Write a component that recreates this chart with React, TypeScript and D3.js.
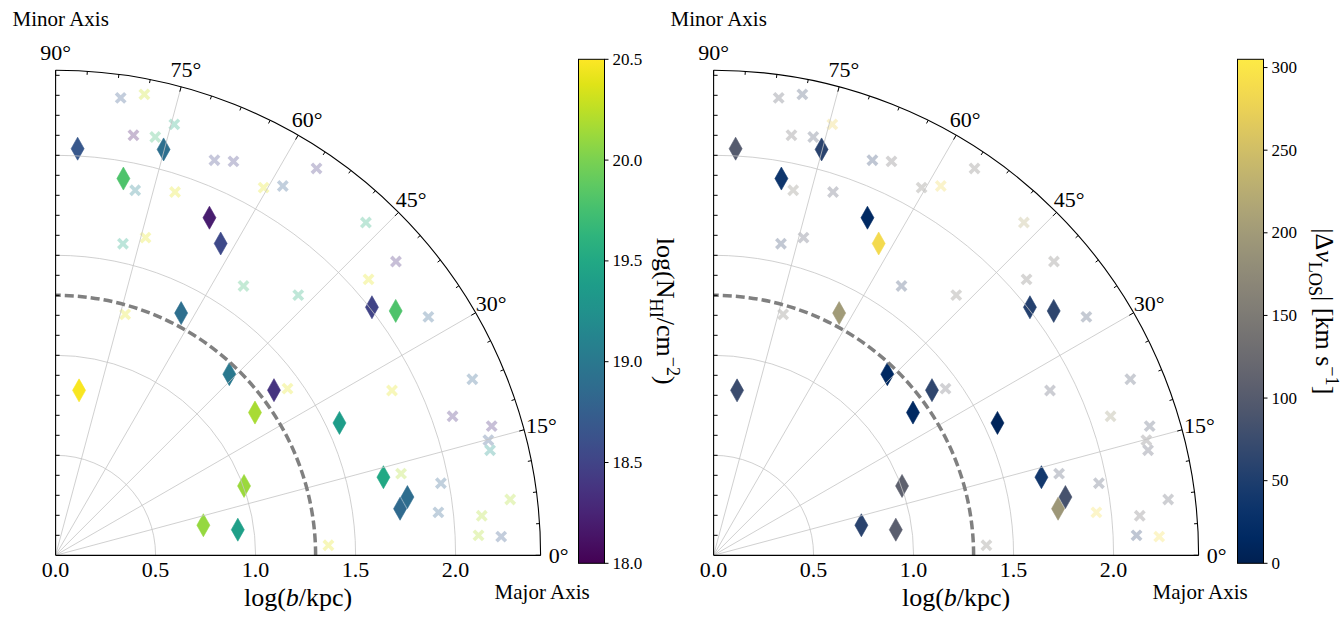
import React, { useEffect, useRef } from "react";
import * as d3 from "d3";

// detections (diamonds): log(b/kpc), azimuthal angle [deg], log N_HI, |dv_LOS|
const detR = [2.036, 2.1, 1.914, 1.855, 1.764, 2.01, 2.094, 1.364, 0.833, 1.255, 1.369, 1.226, 1.566, 1.004, 0.754, 0.92, 1.685, 1.783, 1.738];
const detTheta = [86.9, 75.1, 79.8, 65.5, 62.1, 38.1, 35.7, 62.6, 81.9, 46.2, 37.1, 35.6, 25.0, 20.2, 11.5, 8.0, 13.4, 9.4, 7.7];
const detNHI = [18.68, 18.9, 19.8, 18.2, 18.55, 18.5, 19.8, 18.9, 20.48, 19.0, 18.38, 20.17, 19.38, 20.12, 20.1, 19.4, 19.5, 18.88, 18.85];
const detDv = [100, 60, 35, 15, 285, 55, 65, 200, 75, 15, 65, 15, 8, 110, 60, 105, 40, 85, 195];

// non-detections (crosses)
const ulR = [2.31, 2.347, 2.136, 2.15, 2.235, 2.129, 2.161, 2.333, 1.868, 1.912, 2.112, 2.168, 1.594, 1.651, 1.642, 1.779, 2.275, 2.248, 2.086, 2.2125, 1.254, 1.428, 1.365, 2.262, 1.873, 2.103, 2.274, 2.239, 2.235, 1.775, 1.96, 1.926, 2.29, 2.14, 2.117, 2.23];
const ulTheta = [81.9, 79.1, 79.5, 76.6, 74.6, 68.1, 65.7, 56.0, 77.7, 71.8, 60.5, 58.4, 77.8, 74.2, 55.1, 47.0, 47.0, 40.8, 41.4, 32.6, 73.9, 35.7, 2.1, 22.9, 26.1, 19.3, 16.5, 14.9, 13.6, 13.3, 10.6, 6.4, 7.0, 5.3, 2.7, 2.4];
const ulNHI = [18.7, 20.3, 18.15, 19.7, 19.55, 18.5, 18.45, 18.4, 19.1, 20.4, 20.4, 18.75, 19.5, 20.4, 19.7, 19.6, 19.6, 18.3, 20.4, 18.8, 20.4, 20.4, 20.4, 18.8, 20.4, 18.3, 18.3, 18.7, 19.3, 20.2, 18.8, 18.8, 20.2, 20.2, 20.2, 18.7];
const ulDv = [110, 80, 130, 90, 275, 60, 130, 140, 160, 100, 150, 280, 70, 100, 70, 150, 220, 140, 140, 80, 150, 120, 150, 90, 100, 190, 90, 130, 100, 90, 90, 290, 110, 130, 60, 290];

const radialTicks = [0, 0.5, 1.0, 1.5, 2.0];
const radialTickLabels = ["0.0", "0.5", "1.0", "1.5", "2.0"];
const angleTicks = [0, 15, 30, 45, 60, 75, 90];
const circleGrid = [0.5, 1.0, 1.5, 2.0];
const nhiTicks = [18.0, 18.5, 19.0, 19.5, 20.0, 20.5];
const dvTicks = [0, 50, 100, 150, 200, 250, 300];
const nhiDomain = [18.0, 20.5];
const dvDomain = [0, 305];
const virialR = 1.3;

const FONT = '"Liberation Serif", "Times New Roman", serif';
const OY = 555.3;
const R_PX = 485;
const R_MAX = 2.425;
const CB_TOP = 59.3;
const CB_BOT = 563.3;
const CB_W = 26;

function xMarkerPath(h: number, L: number) {
  const pts = [[h, L], [h, h], [L, h], [L, -h], [h, -h], [h, -L], [-h, -L], [-h, -h], [-L, -h], [-L, h], [-h, h], [-h, L]];
  const c = Math.SQRT1_2;
  return "M" + pts.map(([x, y]) => `${(x * c - y * c).toFixed(2)},${(x * c + y * c).toFixed(2)}`).join("L") + "Z";
}

function richText(text: any, parts: [string, string][], size: number) {
  let shift = 0;
  parts.forEach(([s, k]) => {
    const t = text.append("tspan").text(s);
    let target = 0;
    if (k === "sub") { target = size * 0.25; t.attr("font-size", size * 0.7); }
    if (k === "sup") { target = -size * 0.4; t.attr("font-size", size * 0.7); }
    if (k === "i") t.attr("font-style", "italic");
    if (target !== shift) { t.attr("dy", target - shift); shift = target; }
  });
}

function drawPanel(svg: any, o: any) {
  const { ox, detVal, ulVal, interp, domain, ticks, fmt, cbX, gradId, label } = o;
  const r = d3.scaleLinear().domain([0, R_MAX]).range([0, R_PX]);
  const color = d3.scaleSequential(interp).domain(domain);
  const pt = (rv: number, deg: number) => {
    const a = (deg * Math.PI) / 180;
    return [ox + r(rv) * Math.cos(a), OY - r(rv) * Math.sin(a)];
  };
  const g = svg.append("g");
  const idxUl = d3.range(ulR.length);
  const idxDet = d3.range(detR.length);

  // non-detections
  g.append("g").selectAll("path").data(idxUl).join("path")
    .attr("d", xMarkerPath(1.8, 6.6))
    .attr("transform", (i: number) => `translate(${pt(ulR[i], ulTheta[i])})`)
    .attr("fill", (i: number) => color(ulVal[i]))
    .attr("fill-opacity", 0.3);

  // detections
  g.append("g").selectAll("path").data(idxDet).join("path")
    .attr("d", "M0,-11.5L6.5,0L0,11.5L-6.5,0Z")
    .attr("transform", (i: number) => `translate(${pt(detR[i], detTheta[i])})`)
    .attr("fill", (i: number) => color(detVal[i]))
    .attr("stroke", (i: number) => color(detVal[i]))
    .attr("stroke-width", 0.6);

  // grid
  const arcPath = (rv: number) => {
    const p = d3.path();
    p.moveTo(ox + r(rv), OY);
    p.arc(ox, OY, r(rv), 0, -Math.PI / 2, true);
    return p.toString();
  };
  g.append("g").selectAll("path").data(circleGrid).join("path")
    .attr("d", arcPath).attr("fill", "none").attr("stroke", "#c4c4c4").attr("stroke-width", 0.8);
  g.append("g").selectAll("line").data(angleTicks.slice(1, -1)).join("line")
    .attr("x1", ox).attr("y1", OY)
    .attr("x2", (d: number) => pt(R_MAX, d)[0]).attr("y2", (d: number) => pt(R_MAX, d)[1])
    .attr("stroke", "#c4c4c4").attr("stroke-width", 0.8);

  // virial radius
  g.append("path").attr("d", arcPath(virialR)).attr("fill", "none")
    .attr("stroke", "#808080").attr("stroke-width", 3.5).attr("stroke-dasharray", "9,4");

  // spines
  g.append("path").attr("d", arcPath(R_MAX)).attr("fill", "none").attr("stroke", "#000").attr("stroke-width", 1.1);
  g.append("line").attr("x1", ox).attr("y1", OY).attr("x2", ox).attr("y2", OY - R_PX).attr("stroke", "#000").attr("stroke-width", 1.1);
  g.append("line").attr("x1", ox).attr("y1", OY).attr("x2", ox + R_PX).attr("y2", OY).attr("stroke", "#000").attr("stroke-width", 1.3);

  // angular ticks
  const minorAng = d3.range(0, 90.01, 3.75);
  g.append("g").selectAll("line").data(minorAng).join("line")
    .each(function (this: any, d: number) {
      const len = d % 15 === 0 ? 5 : 3.5;
      const a = (d * Math.PI) / 180;
      d3.select(this)
        .attr("x1", ox + R_PX * Math.cos(a)).attr("y1", OY - R_PX * Math.sin(a))
        .attr("x2", ox + (R_PX - len) * Math.cos(a)).attr("y2", OY - (R_PX - len) * Math.sin(a));
    })
    .attr("stroke", "#000").attr("stroke-width", 1);

  // ticks on the 90 deg edge
  g.append("g").selectAll("line").data(d3.range(1, 25).map((k) => k / 10)).join("line")
    .attr("x1", ox).attr("x2", ox + 4)
    .attr("y1", (d: number) => OY - r(d)).attr("y2", (d: number) => OY - r(d))
    .attr("stroke", "#000").attr("stroke-width", 1);

  // angle labels
  g.append("g").selectAll("text").data(angleTicks).join("text")
    .attr("x", (d: number) => ox + (R_PX + 18) * Math.cos((d * Math.PI) / 180))
    .attr("y", (d: number) => OY - (R_PX + 18) * Math.sin((d * Math.PI) / 180))
    .attr("text-anchor", "middle").attr("dominant-baseline", "central")
    .attr("font-family", FONT).attr("font-size", 22)
    .text((d: number) => `${d}°`);

  // radial tick labels
  g.append("g").selectAll("text").data(radialTicks).join("text")
    .attr("x", (d: number) => ox + r(d)).attr("y", 577)
    .attr("text-anchor", "middle").attr("font-family", FONT).attr("font-size", 22)
    .text((d: number, i: number) => radialTickLabels[i]);

  const xl = g.append("text").attr("x", ox + R_PX / 2).attr("y", 606)
    .attr("text-anchor", "middle").attr("font-family", FONT).attr("font-size", 26);
  richText(xl, [["log(", "n"], ["b", "i"], ["/kpc)", "n"]], 26);

  g.append("text").attr("x", ox - 43).attr("y", 26).attr("font-family", FONT).attr("font-size", 21).text("Minor Axis");
  g.append("text").attr("x", ox + 439).attr("y", 599).attr("font-family", FONT).attr("font-size", 21).text("Major Axis");

  // colorbar
  const grad = svg.append("defs").append("linearGradient").attr("id", gradId)
    .attr("x1", 0).attr("y1", 1).attr("x2", 0).attr("y2", 0);
  d3.range(0, 1.0001, 0.05).forEach((t: number) => {
    grad.append("stop").attr("offset", t).attr("stop-color", interp(t));
  });
  const cy = d3.scaleLinear().domain(domain).range([CB_BOT, CB_TOP]);
  g.append("rect").attr("x", cbX).attr("y", CB_TOP).attr("width", CB_W).attr("height", CB_BOT - CB_TOP)
    .attr("fill", `url(#${gradId})`).attr("stroke", "#000").attr("stroke-width", 1);
  const tg = g.append("g").selectAll("g").data(ticks).join("g")
    .attr("transform", (d: number) => `translate(${cbX + CB_W},${cy(d)})`);
  tg.append("line").attr("x2", 4).attr("stroke", "#000");
  tg.append("text").attr("x", 8).attr("dominant-baseline", "central")
    .attr("font-family", FONT).attr("font-size", 17).text((d: number) => fmt(d));

  const cl = g.append("text").attr("transform", `translate(${cbX + 78},${(CB_TOP + CB_BOT) / 2}) rotate(90)`)
    .attr("text-anchor", "middle").attr("font-family", FONT).attr("font-size", 26);
  richText(cl, label, 26);
}

export default function App() {
  const ref = useRef<SVGSVGElement>(null);
  useEffect(() => {
    const svg = d3.select(ref.current);
    svg.selectAll("*").remove();
    svg.append("rect").attr("width", 1344).attr("height", 621).attr("fill", "#fff");
    drawPanel(svg, {
      ox: 55.6, detVal: detNHI, ulVal: ulNHI, interp: d3.interpolateViridis, domain: nhiDomain,
      ticks: nhiTicks, fmt: d3.format(".1f"), cbX: 578.5, gradId: "gradL",
      label: [["log(N", "n"], ["HI", "sub"], ["/cm", "n"], ["−2", "sup"], [")", "n"]],
    });
    drawPanel(svg, {
      ox: 713.6, detVal: detDv, ulVal: ulDv, interp: d3.interpolateCividis, domain: dvDomain,
      ticks: dvTicks, fmt: d3.format("d"), cbX: 1237.5, gradId: "gradR",
      label: [["|Δ", "n"], ["v", "i"], ["LOS", "sub"], ["| [km s", "n"], ["−1", "sup"], ["]", "n"]],
    });
  }, []);
  return <svg ref={ref} width={1344} height={621} style={{ position: "absolute", left: 0, top: 0 }} />;
}
